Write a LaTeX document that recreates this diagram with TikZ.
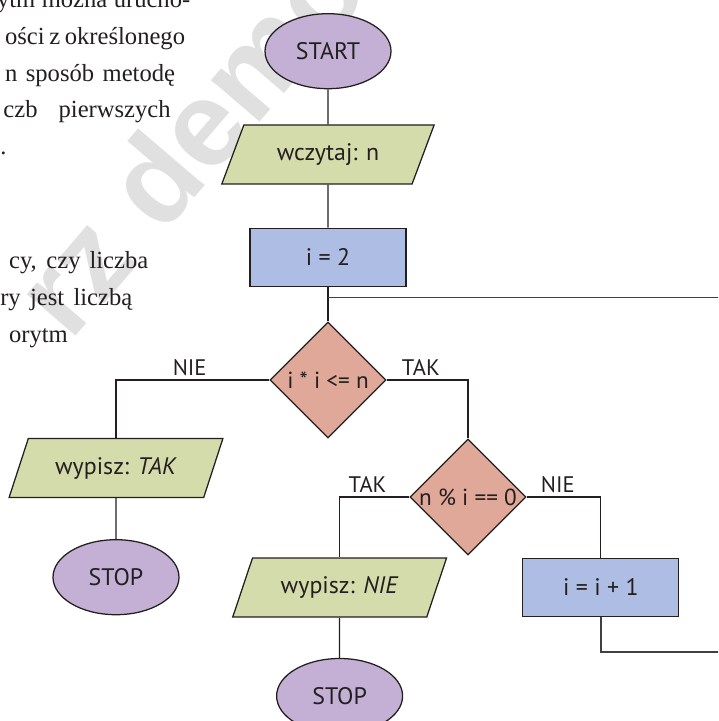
\documentclass[tikz,border=0pt]{standalone}
\usepackage{fontspec}
\setmainfont{Liberation Serif}
\setsansfont{PT Sans}
\newfontfamily\markfont{Liberation Sans}
\usetikzlibrary{shapes.geometric}

\definecolor{termfill}{HTML}{C3B0D4}
\definecolor{iofill}{HTML}{D5DCAB}
\definecolor{opfill}{HTML}{AEBDE3}
\definecolor{testfill}{HTML}{E0A898}
\definecolor{ink}{HTML}{231F20}

\begin{document}
\begin{tikzpicture}[
  every node/.style={font=\sffamily\fontsize{17}{20}\selectfont, text=ink},
  base/.style={draw=ink, line width=0.9pt, inner sep=0pt},
  term/.style={base, ellipse, fill=termfill, minimum width=3.15cm, minimum height=1.875cm},
  io/.style={base, trapezium, trapezium left angle=58.6, trapezium right angle=121.4,
    trapezium stretches=true, fill=iofill, minimum width=5.35cm, minimum height=1.475cm},
  op/.style={base, rectangle, fill=opfill, minimum width=3.9cm, minimum height=1.45cm},
  decision/.style={base, diamond, aspect=1, fill=testfill, minimum size=2.9cm,
    font=\sffamily\fontsize{16.5}{20}\selectfont},
  link/.style={draw=ink, line width=0.9pt},
  loop/.style={draw=black!75, line width=1.2pt},
  answer/.style={above=1pt, inner sep=1.5pt, font=\sffamily\fontsize{16}{19}\selectfont},
]
  % Page frame
  \useasboundingbox (0,0) rectangle (17.95,-18.025);
  \clip (0,0) rectangle (17.95,-18.025);

  % Watermark
  \node (mark) [rotate=49.4, inner sep=0pt, text=black!12,
    font=\markfont\bfseries\fontsize{86}{90}\selectfont] at (4.72,-3.47) {rz demo};

  % Cut-off lines of the page text (justified to their widths)
  \foreach \y/\x/\w/\t [count=\k] in {-0.2/-0.08/4.83/{ytm można urucho-},
      -1.125/0.12/4.5/{ości z określonego}, -2.05/0.12/4.25/{n sposób metodę},
      -2.95/0.08/4.18/{czb pierwszych}, -3.875/0.0/0.15/{.},
      -6.7/0.22/3.48/{cy, czy liczba}, -7.625/0.0/3.3/{ry jest liczbą},
      -8.55/0.22/1.63/{orytm}} {
    \node (line\k) [anchor=base west, inner sep=0pt,
      font=\rmfamily\fontsize{17.5}{21}\selectfont] at (\x,\y) {\makebox[\w cm][s]{\t}};
  }

  % Flowchart blocks
  \node (start) [term] at (8.2,-1.28) {START};
  \node (read) [io] at (8.2,-3.86) {wczytaj: n};
  \node (init) [op] at (8.2,-6.43) {i = 2};
  \node (test) [decision] at (8.2,-9.5) {i * i <= n};
  \node (yes) [io] at (2.9,-11.7) {wypisz: \textit{TAK}};
  \node (stopl) [term] at (2.9,-14.43) {STOP};
  \node (divides) [decision] at (11.7,-12.425) {n \% i == 0};
  \node (no) [io] at (8.49,-14.69) {wypisz: \textit{NIE}};
  \node (stopr) [term] at (8.49,-17.4) {STOP};
  \node (next) [op] at (15.02,-14.68) {i = i + 1};

  % Loop ends leaving the page
  \coordinate (join) at (8.2,-7.44);
  \coordinate (outtop) at (18.5,-7.44);
  \coordinate (outbot) at (18.5,-16.3);

  % Connectors
  \draw[link] (start.south) -- (read.north);
  \draw[link] (read.south) -- (init.north);
  \draw[link] (init.south) -- (test.north);
  \draw[loop] (join) -- (outtop);
  \draw[link] (test.west) -| node (nie1) [answer, pos=0.26] {NIE} (yes.north);
  \draw[link] (yes.south) -- (stopl.north);
  \draw[link] (test.east) -| node (tak1) [answer, pos=0.21] {TAK} (divides.north);
  \draw[link] (divides.west) -| node (tak2) [answer, pos=0.3] {TAK} (no.north);
  \draw[link] (no.south) -- (stopr.north);
  \draw[link] (divides.east) -| node (nie2) [answer, pos=0.21] {NIE} (next.north);
  \draw[loop] (next.south) |- (outbot);
\end{tikzpicture}
\end{document}
